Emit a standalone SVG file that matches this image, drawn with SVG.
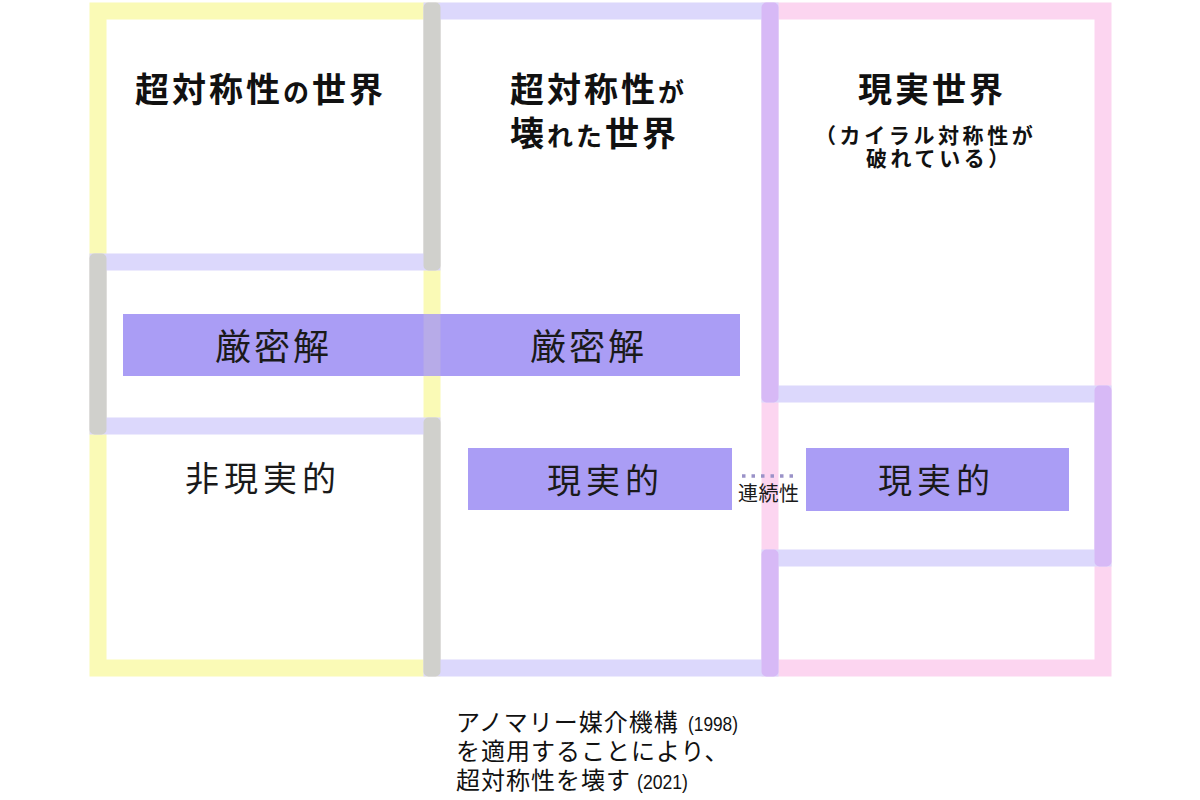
<svg xmlns="http://www.w3.org/2000/svg" width="1200" height="800" viewBox="0 0 1200 800">
  <style>
    .title { font-family: "Noto Sans CJK JP", "Noto Sans", sans-serif; font-weight: 700; fill: #111; }
    .big { font-size: 34px; letter-spacing: 3px; }
    .small { font-size: 26px; letter-spacing: 3px; }
    .sub { font-family: "Noto Sans CJK JP", sans-serif; font-weight: 700; font-size: 21px; letter-spacing: 3.6px; fill: #111; }
    .lbl { font-family: "Noto Sans CJK JP", sans-serif; font-weight: 400; fill: #1a1a1a; }
    .band { fill: #aa9df5; }
    .note { font-family: "Noto Sans CJK JP", sans-serif; font-weight: 400; font-size: 24px; letter-spacing: 1px; fill: #111; }
    .year { font-family: "Liberation Sans", "DejaVu Sans", sans-serif; font-size: 20px; fill: #111; }
    .gray { fill: #d0d0cc; }
    .purple { fill: #d7b9f6; }
  </style>
  <rect width="1200" height="800" fill="#ffffff"/>

  <!-- world outlines -->
  <g id="world-susy">
    <rect x="98" y="11" width="334" height="657" fill="none" stroke="#fafab6" stroke-width="17"/>
  </g>
  <g id="world-real">
    <rect x="770" y="11" width="333" height="657" fill="none" stroke="#fcd5f0" stroke-width="17"/>
  </g>
  <g id="world-broken">
    <path d="M432,11 H770 V394 H1103 V558 H770 V668 H432 V426 H98 V262 H432 Z" fill="none" stroke="#dcd8fc" stroke-width="17"/>
  </g>
  <g id="overlaps">
    <rect class="gray" x="423.5" y="2.5" width="17" height="268" rx="5"/>
    <rect class="gray" x="89.5" y="253.5" width="17" height="181" rx="5"/>
    <rect class="gray" x="423.5" y="417.5" width="17" height="259" rx="5"/>
    <rect class="purple" x="761.5" y="2.5" width="17" height="400" rx="5"/>
    <rect class="purple" x="1094.5" y="385.5" width="17" height="181" rx="5"/>
    <rect class="purple" x="761.5" y="549.5" width="17" height="127" rx="5"/>
  </g>

  <!-- titles -->
  <g id="title-susy">
    <text class="title" x="135" y="102"><tspan class="big">超対称性</tspan><tspan class="small">の</tspan><tspan class="big">世界</tspan></text>
  </g>
  <g id="title-broken">
    <text class="title" x="510" y="102"><tspan class="big">超対称性</tspan><tspan class="small">が</tspan></text>
    <text class="title" x="510" y="146"><tspan class="big">壊</tspan><tspan class="small">れた</tspan><tspan class="big">世界</tspan></text>
  </g>
  <g id="title-real">
    <text class="title big" x="858" y="102">現実世界</text>
    <text class="sub" x="815" y="143">（カイラル対称性が</text>
    <text class="sub" x="866" y="166">破れている）</text>
  </g>

  <!-- exact solution band -->
  <g id="exact-solution">
    <rect class="band" x="123" y="314" width="617" height="62"/>
    <rect x="423.5" y="314" width="17" height="62" fill="#f6f0b0" opacity="0.18"/>
    <text class="lbl" x="215" y="360" font-size="36" letter-spacing="3">厳密解</text>
    <text class="lbl" x="530" y="360" font-size="36" letter-spacing="3">厳密解</text>
  </g>

  <g id="unrealistic">
    <text class="lbl" x="185" y="491" font-size="34" letter-spacing="5">非現実的</text>
  </g>

  <g id="realistic-broken">
    <rect class="band" x="468" y="448" width="264" height="62"/>
    <text class="lbl" x="547" y="493" font-size="34" letter-spacing="5">現実的</text>
  </g>

  <g id="realistic-real">
    <rect class="band" x="806" y="448" width="263" height="63"/>
    <text class="lbl" x="878" y="493" font-size="34" letter-spacing="5">現実的</text>
  </g>

  <!-- connector -->
  <g id="connectors">
    <line x1="742" y1="476" x2="794" y2="476" stroke="#9a92c8" stroke-width="3.5" stroke-dasharray="3.5 6"/>
    <text class="lbl" x="738" y="501" font-size="20" letter-spacing="0.5">連続性</text>
  </g>

  <!-- note -->
  <g id="note">
    <text class="note" x="456" y="731">アノマリー媒介機構</text>
    <text class="year" x="688" y="731" textLength="50" lengthAdjust="spacingAndGlyphs">(1998)</text>
    <text class="note" x="456" y="760">を適用することにより、</text>
    <text class="note" x="456" y="789">超対称性を壊す</text>
    <text class="year" x="637" y="789" textLength="51" lengthAdjust="spacingAndGlyphs">(2021)</text>
  </g>
</svg>
